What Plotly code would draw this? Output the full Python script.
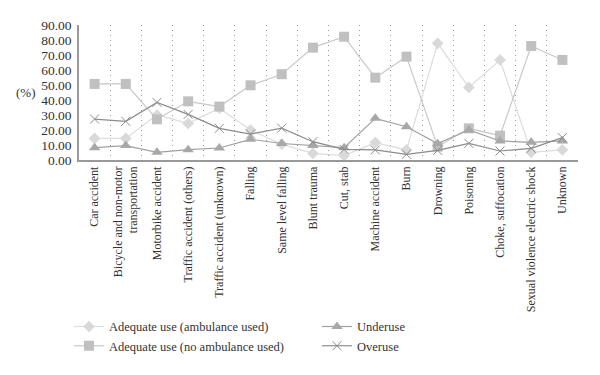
import plotly.graph_objects as go

categories = [
    "Car accident",
    "Bicycle and non-motor<br>transportation",
    "Motorbike accident",
    "Traffic accident (others)",
    "Traffic accident (unknown)",
    "Falling",
    "Same level falling",
    "Blunt trauma",
    "Cut, stab",
    "Machine accident",
    "Burn",
    "Drowning",
    "Poisoning",
    "Choke, suffocation",
    "Sexual violence electric shock",
    "Unknown",
]

adequate_amb = [14.4, 14.4, 30.0, 24.4, 34.5, 20.0, 10.5, 4.4, 2.9, 11.6, 6.7, 77.8, 48.4, 66.7, 5.1, 6.7]
adequate_noamb = [50.7, 50.7, 27.1, 39.1, 35.6, 49.8, 57.2, 74.9, 82.2, 54.9, 68.9, 8.9, 21.1, 16.2, 76.0, 66.7]
underuse = [8.2, 9.6, 5.1, 6.9, 8.0, 13.8, 11.0, 9.6, 8.2, 27.8, 22.2, 10.9, 20.0, 12.7, 11.8, 12.7]
overuse = [27.3, 25.8, 38.4, 30.4, 21.1, 17.3, 21.2, 12.2, 7.1, 6.7, 3.8, 6.4, 11.1, 6.0, 7.8, 14.9]

y_ticks = [0, 10, 20, 30, 40, 50, 60, 70, 80, 90]

FONT = "Liberation Serif"
TXT = "#333333"

fig = go.Figure()

fig.add_trace(go.Scatter(
    x=categories, y=adequate_amb, name="Adequate use (ambulance used)",
    mode="lines+markers", legend="legend",
    line=dict(color="#dcdcdc", width=1.2),
    marker=dict(symbol="diamond", size=9, color="#d9d9d9"),
))
fig.add_trace(go.Scatter(
    x=categories, y=adequate_noamb, name="Adequate use (no ambulance used)",
    mode="lines+markers", legend="legend",
    line=dict(color="#c8c8c8", width=1.2),
    marker=dict(symbol="square", size=10, color="#c0c0c0"),
))
fig.add_trace(go.Scatter(
    x=categories, y=underuse, name="Underuse",
    mode="lines+markers", legend="legend2",
    line=dict(color="#a0a0a0", width=1.2),
    marker=dict(symbol="triangle-up", size=10, color="#a8a8a8"),
))
fig.add_trace(go.Scatter(
    x=categories, y=overuse, name="Overuse",
    mode="lines+markers", legend="legend2",
    line=dict(color="#8c8c8c", width=1.2),
    marker=dict(symbol="x-thin", size=9, line=dict(color="#8c8c8c", width=1)),
))

legend_common = dict(
    orientation="v", xref="paper", yref="container", yanchor="top", y=0.172,
    font=dict(family=FONT, size=12.5, color=TXT),
    tracegroupgap=0, itemwidth=30, bgcolor="rgba(0,0,0,0)",
    traceorder="normal",
)

# page body has an 8px default margin, so the figure is sized/offset to compensate
fig.update_layout(
    width=592, height=367,
    margin=dict(l=71, r=22, t=17, b=215),
    paper_bgcolor="white", plot_bgcolor="white",
    font=dict(family=FONT, size=12, color=TXT),
    showlegend=True,
    legend=dict(x=-0.02, xanchor="left", **legend_common),
    legend2=dict(x=0.477, xanchor="left", **legend_common),
    xaxis=dict(
        type="category", tickangle=-90,
        tickfont=dict(family=FONT, size=12, color=TXT),
        showgrid=True, gridcolor="#9a9a9a", griddash="1px,4px", gridwidth=1,
        tickson="boundaries", ticks="",
        showline=True, linecolor="#999999", linewidth=1.5,
        automargin=False, range=[-0.5, 15.5],
    ),
    yaxis=dict(
        range=[0, 90], tickvals=y_ticks, tickformat=".2f",
        tickfont=dict(family=FONT, size=13.5, color=TXT),
        showgrid=False, zeroline=False,
        showline=True, linecolor="#999999", linewidth=1.5,
        ticks="", ticklabelstandoff=3, automargin=False,
    ),
    annotations=[dict(
        text="(%)", xref="paper", yref="paper", x=-0.082, xanchor="right", y=0.5,
        showarrow=False, font=dict(family=FONT, size=13, color=TXT),
    )],
)

fig.write_html("out.html")
